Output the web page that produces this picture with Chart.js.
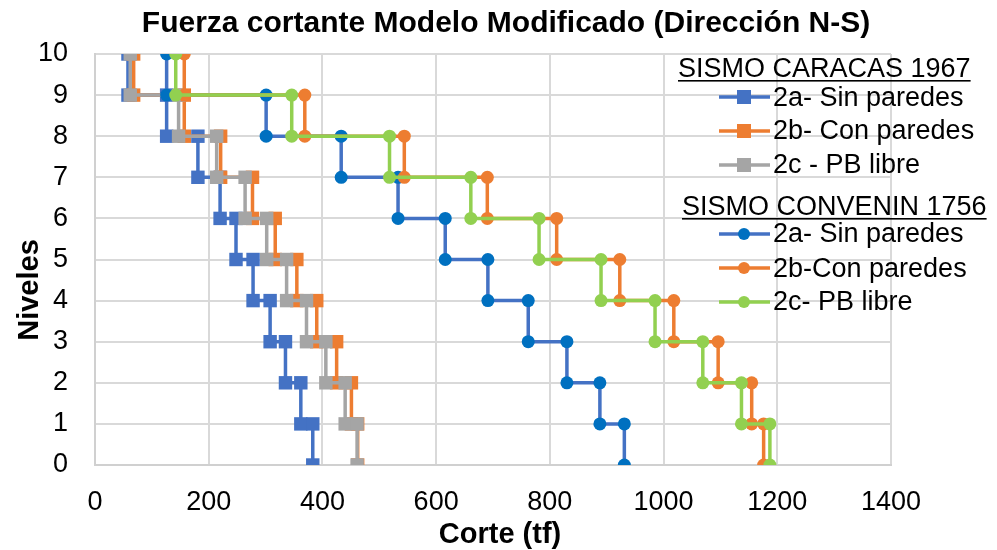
<!DOCTYPE html>
<html>
<head>
<meta charset="utf-8">
<script src="https://cdn.jsdelivr.net/npm/chart.js@4.4.1/dist/chart.umd.min.js"></script>
<style>
  html, body { margin: 0; padding: 0; background: #fff; }
  #wrap { width: 997px; height: 550px; }
</style>
</head>
<body>
<div id="wrap"><canvas id="corteChart" width="997" height="550"></canvas></div>
<script>
// Pisos (nivel superior de cada entrepiso)
const pisos = [10, 9, 8, 7, 6, 5, 4, 3, 2, 1];

// Sismo Caracas 1967 - corte por entrepiso (tf)
const caracasSin = [58, 126, 181, 220, 248, 278, 308, 335, 362, 383];
const caracasCon = [68, 157, 221, 277, 317, 355, 390, 425, 451, 462];
const caracasPB  = [62, 147, 214, 264, 302, 337, 372, 406, 440, 461];

// Sismo Convenin 1756 - corte por entrepiso (tf)
const conveninSin = [126, 301, 433, 533, 616, 691, 762, 830, 888, 931];
const conveninCon = [157, 369, 544, 690, 812, 923, 1018, 1096, 1155, 1176];
const conveninPB  = [142, 346, 518, 661, 781, 890, 985, 1069, 1137, 1187];

const FONT = "'Liberation Sans', Arial, sans-serif";

// convierte el corte de cada entrepiso en una curva escalonada
function escalones(valores) {
  const pts = [];
  valores.forEach((v, i) => {
    pts.push({ x: v, y: pisos[i] });
    pts.push({ x: v, y: pisos[i] - 1 });
  });
  return pts;
}

const series = [
  { label: '2a- Sin paredes', data: caracasSin, line: '#4472C4', mark: '#4472C4', style: 'rect' },
  { label: '2b- Con paredes', data: caracasCon, line: '#ED7D31', mark: '#ED7D31', style: 'rect' },
  { label: '2c - PB libre',   data: caracasPB,  line: '#A5A5A5', mark: '#A5A5A5', style: 'rect' },
  { label: '2a- Sin paredes', data: conveninSin, line: '#4472C4', mark: '#0070C0', style: 'circle' },
  { label: '2b-Con paredes',  data: conveninCon, line: '#ED7D31', mark: '#ED7D31', style: 'circle' },
  { label: '2c- PB libre',    data: conveninPB,  line: '#92D050', mark: '#92D050', style: 'circle' }
];

const datasets = series.map((s, i) => ({
  label: s.label,
  data: escalones(s.data),
  showLine: true,
  borderColor: s.line,
  borderWidth: 3.5,
  pointStyle: s.style,
  pointRadius: s.style === 'rect' ? 9.5 : 6.5,
  pointBackgroundColor: s.mark,
  pointBorderColor: s.mark,
  pointBorderWidth: 0,
  order: series.length - i // las ultimas series quedan encima
}));

// titulo, leyenda agrupada por sismo y titulos de ejes
const extras = {
  id: 'extras',
  afterDraw(chart) {
    const ctx = chart.ctx;
    ctx.save();
    ctx.fillStyle = '#000';
    ctx.textBaseline = 'alphabetic';

    ctx.font = 'bold 30px ' + FONT;
    ctx.textAlign = 'center';
    ctx.fillText('Fuerza cortante Modelo Modificado (Dirección N-S)', 506, 32);

    function cabecera(texto, x, base) {
      ctx.font = '27px ' + FONT;
      ctx.textAlign = 'left';
      ctx.fillText(texto, x, base);
      const w = ctx.measureText(texto).width;
      ctx.fillRect(x, base + 3, w, 1.6);
    }
    function entrada(s, yLinea, base) {
      ctx.strokeStyle = s.line;
      ctx.lineWidth = 3.5;
      ctx.beginPath();
      ctx.moveTo(719, yLinea);
      ctx.lineTo(770, yLinea);
      ctx.stroke();
      ctx.fillStyle = s.mark;
      if (s.style === 'rect') {
        ctx.fillRect(737, yLinea - 7, 14, 14);
      } else {
        ctx.beginPath();
        ctx.arc(744, yLinea, 6, 0, Math.PI * 2);
        ctx.fill();
      }
      ctx.fillStyle = '#000';
      ctx.font = '27px ' + FONT;
      ctx.textAlign = 'left';
      ctx.fillText(s.label, 773, base);
    }

    cabecera('SISMO CARACAS 1967', 678, 77);
    entrada(series[0], 97, 106);
    entrada(series[1], 131, 139);
    entrada(series[2], 165, 173);
    cabecera('SISMO CONVENIN 1756', 682, 215);
    entrada(series[3], 234, 242);
    entrada(series[4], 268, 277);
    entrada(series[5], 302, 310);

    ctx.font = 'bold 29px ' + FONT;
    ctx.textAlign = 'center';
    ctx.textBaseline = 'middle';
    ctx.fillText('Corte (tf)', 500, 535);
    ctx.translate(30, 290);
    ctx.rotate(-Math.PI / 2);
    ctx.fillText('Niveles', 0, 0);
    ctx.restore();
  }
};

new Chart(document.getElementById('corteChart').getContext('2d'), {
  type: 'scatter',
  data: { datasets: datasets },
  options: {
    responsive: false,
    animation: false,
    layout: { padding: { left: 0, right: 106, top: 54, bottom: 0 } },
    plugins: {
      legend: { display: false },
      tooltip: { enabled: false },
      title: { display: false }
    },
    scales: {
      x: {
        min: 0,
        max: 1400,
        ticks: {
          stepSize: 200, color: '#000', padding: 21,
          font: { family: FONT, size: 27 },
          callback: v => String(v)
        },
        grid: { color: '#D9D9D9', lineWidth: 2, drawTicks: false },
        border: { color: '#D0D0D0', width: 2 },
        afterFit: s => { s.height = 85; }
      },
      y: {
        min: 0,
        max: 10,
        ticks: {
          stepSize: 1, color: '#000', padding: 27,
          font: { family: FONT, size: 27 },
          callback: v => String(v)
        },
        grid: { color: '#D9D9D9', lineWidth: 2, drawTicks: false },
        border: { color: '#D0D0D0', width: 2 },
        afterFit: s => { s.width = 95; }
      }
    }
  },
  plugins: [extras]
});
</script>
</body>
</html>
